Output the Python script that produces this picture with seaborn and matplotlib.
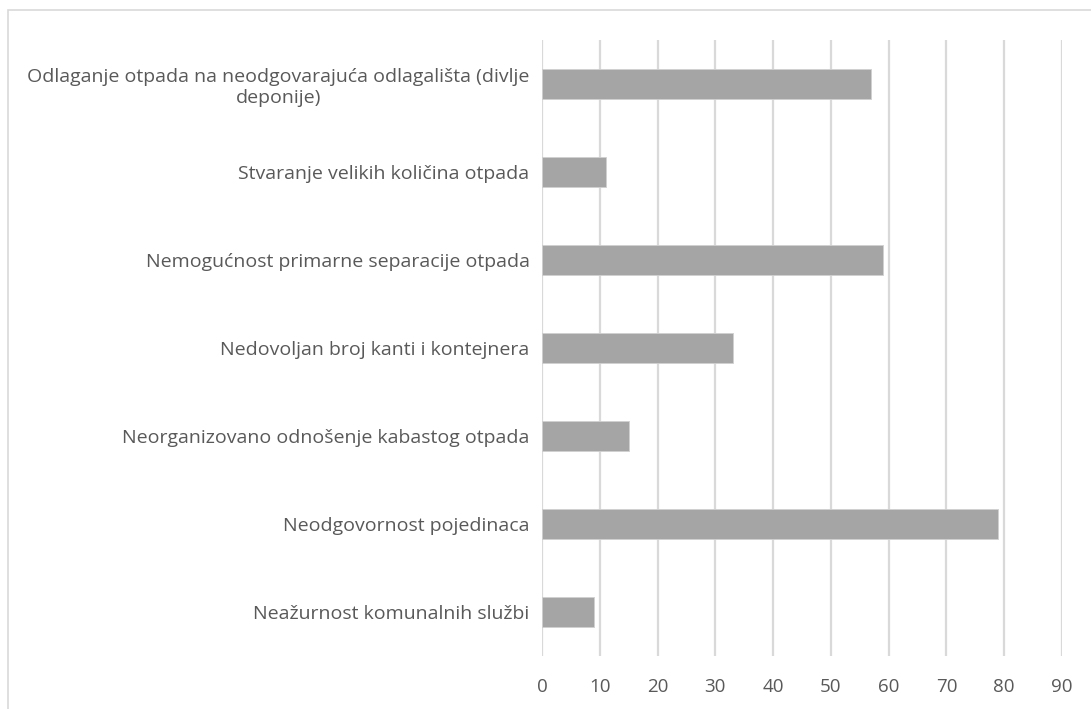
import matplotlib
matplotlib.use("Agg")
import matplotlib.pyplot as plt
import seaborn as sns
import pandas as pd
from matplotlib.patches import Rectangle

categories = [
    "Odlaganje otpada na neodgovarajuća odlagališta (divlje\ndeponije)",
    "Stvaranje velikih količina otpada",
    "Nemogućnost primarne separacije otpada",
    "Nedovoljan broj kanti i kontejnera",
    "Neorganizovano odnošenje kabastog otpada",
    "Neodgovornost pojedinaca",
    "Neažurnost komunalnih službi",
]
values = [57, 11, 59, 33, 15, 79, 9]
xticks = [0, 10, 20, 30, 40, 50, 60, 70, 80, 90]

df = pd.DataFrame({"cat": categories, "val": values})

sns.set_theme(style="white")
plt.rcParams['font.family'] = ['Open Sans', 'DejaVu Sans']

W, H = 1091, 709
fig = plt.figure(figsize=(W / 100, H / 100), dpi=100)
ax = fig.add_axes([542 / W, 1 - 656 / H, (1062 - 542) / W, (656 - 40) / H])

sns.barplot(data=df, x="val", y="cat", color="#a5a5a5", saturation=1,
            width=0.35, ax=ax, zorder=3, edgecolor="#d0d0d0", linewidth=0.6)

ax.set_xlim(0, 90)
ax.set_xticks(xticks)
ax.set_xticklabels([str(t) for t in xticks])
ax.set_yticks(range(len(categories)))
ax.set_yticklabels(categories)
ax.xaxis.grid(True, color="#d9d9d9", linewidth=1.6, zorder=0)
ax.yaxis.grid(False)
for s in ax.spines.values():
    s.set_visible(False)
ax.set_xlabel("")
ax.set_ylabel("")
ax.tick_params(axis="x", length=0, pad=16, labelsize=13.5, labelcolor="#595959")
ax.tick_params(axis="y", length=0, pad=9, labelsize=14, labelcolor="#595959")

fig.patches.append(Rectangle((8 / W, -0.1), 1.2, 1 - 10 / H + 0.1, transform=fig.transFigure,
                             fill=False, edgecolor="#d9d9d9", linewidth=1.2))

fig.canvas.draw()
for tick in ax.yaxis.get_major_ticks():
    tick.label1.set_multialignment("center")
    tick.label1.set_horizontalalignment("right")

fig.savefig("out.png", dpi=100, facecolor="white")
